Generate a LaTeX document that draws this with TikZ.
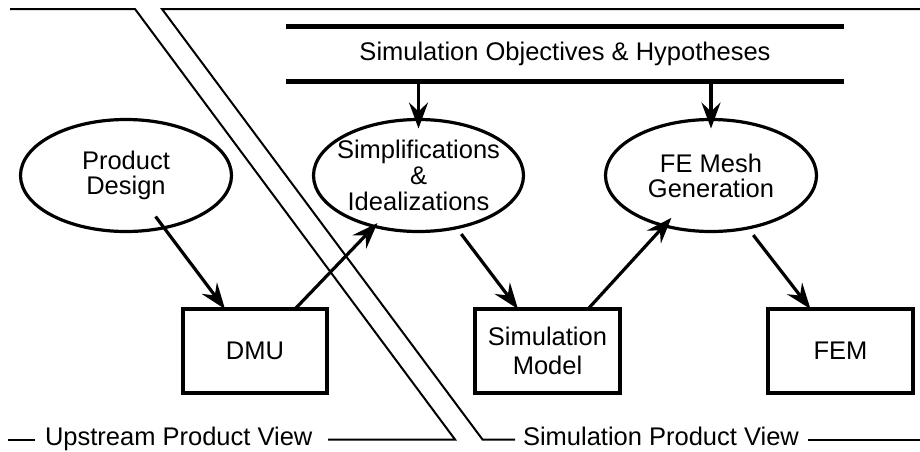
\documentclass[tikz,border=0pt]{standalone}
\usepackage{fontspec}
\setmainfont{Liberation Sans}
\usetikzlibrary{arrows.meta,shapes.geometric}

\begin{document}
\begin{tikzpicture}[x=1pt,y=-1pt,
  every node/.style={inner sep=0pt, outer sep=0pt},
  txt/.style={font=\fontsize{25.5}{25.5}\selectfont, align=center},
  oval/.style={draw, ellipse, line width=3.2pt, minimum width=211pt, minimum height=112pt},
  stage/.style={draw, rectangle, line width=3.2pt, minimum width=145pt, minimum height=84pt},
  frame/.style={line width=2pt},
  bar/.style={line width=5pt},
  flow/.style={line width=3.2pt, -{Stealth[length=26pt,width=19pt,inset=9pt]}},
]
\useasboundingbox (0,0) rectangle (920,451);

% view frames
\draw[frame] (10,9) -- (135,9) -- (455,439.5) -- (328,439.5);
\draw[frame] (8,439.5) -- (35,439.5);
\node[txt, anchor=base west] (upv) at (45,445) {Upstream Product View};
\draw[frame] (920,9) -- (162,9) -- (482.5,439.5) -- (515,439.5);
\node[txt, anchor=base west] (spv) at (523,445) {Simulation Product View};
\draw[frame] (808,439.5) -- (920,439.5);

% objectives bar
\node[minimum width=558pt, minimum height=55pt] (obj) at (565,53.5) {};
\draw[bar] (obj.north west) -- (obj.north east);
\draw[bar] (obj.south west) -- (obj.south east);
\node[txt] (objtext) at (obj.center) {Simulation Objectives \& Hypotheses};

% process stages
\node[oval] (pd) at (126,175.5) {};
\node[txt, font=\fontsize{25.5}{24.5}\selectfont] (pdtext) at (pd.center) {Product\\Design};
\node[oval, minimum width=210pt] (simp) at (418.5,175.5) {};
\node[txt, font=\fontsize{25.5}{26}\selectfont] (simptext) at (simp.center) {Simplifications\\\&\\Idealizations};
\node[oval] (fe) at (711,175.5) {};
\node[txt, font=\fontsize{25.5}{25}\selectfont] (fetext) at (fe.center) {FE Mesh\\Generation};

\node[stage, minimum width=144pt] (dmu) at (255,351) {};
\node[txt] (dmutext) at (dmu.center) {DMU};
\node[stage] (sm) at (547.5,351) {};
\node[txt, font=\fontsize{25.5}{29}\selectfont] (smtext) at (sm.center) {Simulation\\Model};
\node[stage] (fem) at (840.5,351) {};
\node[txt] (femtext) at (fem.center) {FEM};

% flows
\draw[flow] (simp.north |- obj.south) -- ([yshift=-9pt]simp.north);
\draw[flow] (fe.north |- obj.south) -- ([yshift=-9pt]fe.north);
\draw[flow, shorten <=-14pt] (pd.-54) -- ([xshift=-30pt]dmu.north);
\draw[flow, shorten >=-4.5pt] ([xshift=40pt]dmu.north) -- (simp.-131);
\draw[flow, shorten <=8pt] (simp.-54) -- ([xshift=-29.5pt]sm.north);
\draw[flow, shorten >=-10.7pt] ([xshift=40.5pt]sm.north) -- (fe.-133);
\draw[flow, shorten <=9pt] (fe.-55) -- ([xshift=-30pt]fem.north);
\end{tikzpicture}
\end{document}
